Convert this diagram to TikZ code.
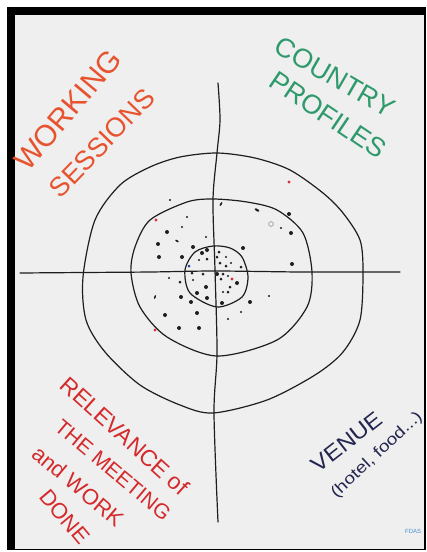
\documentclass[tikz,border=0pt]{standalone}
\usepackage{fontspec}
\setmainfont{Liberation Sans}
\definecolor{board}{HTML}{EFEFEF}
\definecolor{ink}{HTML}{1E1E1E}
\definecolor{orangeink}{HTML}{E8532F}
\definecolor{greenink}{HTML}{2E9A6C}
\definecolor{redink}{HTML}{D42A2C}
\definecolor{navyink}{HTML}{23264F}
\definecolor{dotred}{HTML}{D8303A}
\definecolor{dotblue}{HTML}{2C3C9C}
\definecolor{logoblue}{HTML}{4A90D0}
\begin{document}
\begin{tikzpicture}[x=1pt,y=-1pt,
  pen/.style={draw=ink, line width=1.2pt, line cap=round, line join=round},
  blob/.style={fill=ink},
  reddot/.style={fill=dotred},
  label/.style={inner sep=0pt, anchor=center},
  fs/.style={font=\fontsize{#1}{#1}\selectfont}]
\useasboundingbox (0,0) rectangle (427,552);
\fill[white] (0,0) rectangle (427,552);
\fill[black] (7,7) rectangle (426,550);
\fill[board] (15,15) rectangle (424,548.5);

% axes
\draw[pen] plot[smooth] coordinates {(218,83) (220,120) (217,153) (213,200) (215,270) (217,353) (214,413) (218,522)};
\draw[pen] plot[smooth] coordinates {(20,273) (83,272.5) (150,272) (215,271) (300,272) (363,272) (400,272)};

% rings
\draw[pen] plot[smooth cycle] coordinates {(83,277) (86,320) (105,352) (140,385) (180,405) (213,413) (267,400) (315,375) (343,352) (360,320) (363,272) (360,240) (343,213) (323,193) (290,170) (255,158) (217,153) (180,157) (150,167) (120,185) (95,220)};
\draw[pen] plot[smooth cycle] coordinates {(131,273) (140,307) (167,337) (217,356) (277,340) (307,307) (312,272) (303,233) (277,210) (247,202) (213,199) (187,202) (150,220) (135,247)};
\draw[pen] plot[smooth cycle] coordinates {(185,270) (190,293) (217,307) (242,297) (248,277) (242,257) (230,248) (213,246) (195,252)};

% dots - large
\foreach \p in {(158,244),(291,233),(292,264),(197,313),(179,328),(199,328),(165,315),(289,214),(159,257),(182,257),(193,247),(243,248),(207,298),(206,287),(181,297),(191,302),(250,302),(222,303),(167,232),(217,274),(207,250),(202,253),(237,283),(197,293)}
  \fill[blob] \p circle (2);
% dots - medium
\foreach \p in {(180,282),(217,257),(220,263),(226,266),(241,267),(192,273),(203,274),(223,274),(221,279),(228,292),(230,287),(207,259),(219,252)}
  \fill[blob] \p circle (1.5);
% dots - small
\foreach \p in {(170,200),(187,217),(182,227),(206,237),(281,228),(269,296),(241,312),(228,319),(169,278),(199,260),(226,257),(231,263),(193,280),(228,276),(223,292)}
  \fill[blob] \p circle (1.1);
% dashes
\fill[blob, rotate around={60:(221,204)}] (221,204) ellipse (2.2 and 0.9);
\fill[blob, rotate around={-30:(257,210)}] (257,210) ellipse (2.6 and 1.2);
\fill[blob, rotate around={-30:(177,241)}] (177,241) ellipse (2 and 0.9);
\fill[blob, rotate around={70:(155,297)}] (155,297) ellipse (2 and 0.8);
\draw[ink!50, line width=0.6pt] (271,224) circle (2.4);
% coloured dots
\foreach \p in {(289,182),(156,220),(155,330),(232,279)}
  \fill[reddot] \p circle (1.6);
\fill[dotblue] (189,266) circle (1.5);

% labels
\node[label, fs=30, text=orangeink, rotate=50] (working) at (68,110) {WORKING};
\node[label, fs=27, text=orangeink, rotate=46] (sessions) at (102,143) {SESSIONS};
\node[label, fs=27, text=greenink, rotate=-30] (country) at (335,77) {COUNTRY};
\node[label, fs=27, text=greenink, rotate=-34] (profiles) at (328,115) {PROFILES};
\node[label, fs=23, text=redink, rotate=-42] (relevance) at (125,436) {RELEVANCE of};
\node[label, fs=21, text=redink, rotate=-40] (meeting) at (113,470) {THE MEETING};
\node[label, fs=22, text=redink, rotate=-40] (work) at (78,486) {and WORK};
\node[label, fs=22, text=redink, rotate=-50] (done) at (65,517) {DONE};
\node[label, fs=22, text=navyink, rotate=38] (venue) at (347,442) {\scalebox{1.1}[1]{VENUE}};
\node[label, fs=16, text=navyink, rotate=43] (hotel) at (377,455) {\scalebox{1.2}[1]{(hotel, food...)}};
\node[inner sep=0pt, anchor=west, fs=6, text=logoblue] (logo) at (405,531) {FDAS};
\end{tikzpicture}
\end{document}
